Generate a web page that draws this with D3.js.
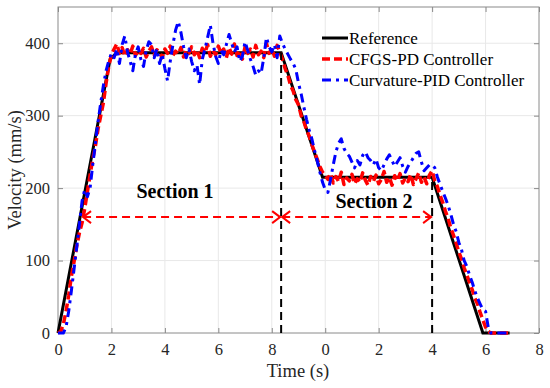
<!DOCTYPE html>
<html>
<head>
<meta charset="utf-8">
<script src="https://cdn.jsdelivr.net/npm/d3@7"></script>
<style>
  body { margin: 0; background: #fff; }
  svg { font-family: "Liberation Serif", "Times New Roman", serif; }
</style>
</head>
<body>
<svg id="chart" width="550" height="388"></svg>
<script>
// sampled every 0.1 s from t = 0
const sampleStep = 0.1;

// reference profile (t, v)
const refTime = [0, 1.95, 2.2, 8.35, 9.9, 14.0, 15.9, 16.9];
const refVel  = [0, 378, 387, 387, 215, 215, 0, 0];

const cfgsVel = [
  0, 2, 12, 30, 52, 78, 98, 120, 138, 152,
  172, 195, 218, 240, 258, 282, 300, 318, 345, 368,
  384, 392, 399, 386, 394, 382, 391, 385, 396, 383,
  390, 386, 393, 381, 389, 395, 384, 391, 387, 380,
  392, 386, 396, 383, 389, 385, 394, 381, 390, 386,
  395, 384, 391, 380, 393, 387, 398, 382, 390, 384,
  396, 386, 392, 380, 394, 385, 399, 383, 390, 378,
  395, 386, 392, 381, 397, 384, 389, 380, 400, 386,
  393, 382, 397, 388, 378, 365, 356, 342, 334, 322,
  315, 300, 292, 280, 272, 260, 250, 240, 230, 222,
  218, 212, 220, 207, 216, 209, 222, 205, 214, 210,
  219, 206, 213, 208, 221, 211, 204, 216, 209, 218,
  206, 212, 223, 208, 215, 204, 217, 210, 220, 207,
  214, 209, 219, 205, 213, 221, 208, 215, 206, 218,
  224, 210, 202, 190, 180, 168, 158, 145, 135, 124,
  112, 102, 90, 80, 70, 60, 48, 40, 28, 18,
  8, 2, 0, 0, 0, 0, 0, 0, 0, 0
];

const curvVel = [
  0, 0, 0, 8, 30, 58, 88, 118, 150, 182,
  198, 188, 200, 232, 262, 292, 318, 342, 362, 376,
  386, 380, 392, 372, 398, 410, 388, 375, 362, 385,
  395, 378, 368, 390, 402, 398, 380, 392, 372, 385,
  365, 348, 375, 398, 418, 430, 415, 395, 380, 392,
  375, 362, 370, 343, 378, 392, 408, 425, 400, 382,
  372, 390, 384, 398, 412, 400, 388, 395, 375, 382,
  402, 390, 378, 368, 356, 362, 358, 380, 408, 395,
  388, 398, 380, 410, 400, 392, 385, 378, 372, 364,
  345, 330, 312, 295, 280, 268, 252, 238, 222, 208,
  198, 194, 212, 232, 250, 262, 268, 255, 248, 244,
  236, 228, 238, 232, 245, 250, 242, 238, 232, 240,
  228, 224, 232, 240, 246, 238, 230, 236, 242, 230,
  222, 230, 236, 242, 248, 250, 236, 224, 228, 232,
  232, 228, 215, 205, 195, 186, 176, 164, 150, 140,
  125, 115, 100, 92, 80, 70, 58, 48, 40, 32,
  30, 8, 0, 0, 0, 0, 0, 0, 0, 0
];

const xTicks = [0, 2, 4, 6, 8, 10, 12, 14, 16, 18];
const xTickLabels = ["0", "2", "4", "6", "8", "0", "2", "4", "6", "8"];
const yTicks = [0, 100, 200, 300, 400];

const sectionSplit = [8.35, 14.0];
const arrowStart = 0.9;
const arrowLevel = 160;

const legendNames = ["Reference", "CFGS-PD Controller", "Curvature-PID Controller"];

const svg = d3.select("#chart");
const plotLeft = 58, plotRight = 539, plotTop = 7, plotBottom = 333;
const axisGray = "#8a8a8a";

const x = d3.scaleLinear().domain([0, 18]).range([plotLeft, plotRight]);
const y = d3.scaleLinear().domain([0, 450]).range([plotBottom, plotTop]);

// grid
svg.append("g").selectAll("line")
  .data(xTicks.slice(1, -1))
  .enter().append("line")
  .attr("x1", d => x(d)).attr("x2", d => x(d))
  .attr("y1", plotTop).attr("y2", plotBottom)
  .attr("stroke", "#e8e8e8").attr("stroke-width", 1);
svg.append("g").selectAll("line")
  .data(yTicks.slice(1))
  .enter().append("line")
  .attr("x1", plotLeft).attr("x2", plotRight)
  .attr("y1", d => y(d)).attr("y2", d => y(d))
  .attr("stroke", "#e8e8e8").attr("stroke-width", 1);

// axes (MATLAB style, ticks pointing in)
const xAxis = d3.axisBottom(x).tickValues(xTicks)
  .tickFormat((d, i) => xTickLabels[i])
  .tickSizeInner(-5).tickSizeOuter(0).tickPadding(10);
const yAxis = d3.axisLeft(y).tickValues(yTicks)
  .tickSizeInner(-5).tickSizeOuter(0).tickPadding(8);

const gx = svg.append("g").attr("transform", `translate(0,${plotBottom})`).call(xAxis);
const gy = svg.append("g").attr("transform", `translate(${plotLeft},0)`).call(yAxis);
const gxTop = svg.append("g").attr("transform", `translate(0,${plotTop})`)
  .call(d3.axisTop(x).tickValues(xTicks).tickFormat("").tickSizeInner(-5).tickSizeOuter(0));
const gyRight = svg.append("g").attr("transform", `translate(${plotRight},0)`)
  .call(d3.axisRight(y).tickValues(yTicks).tickFormat("").tickSizeInner(-5).tickSizeOuter(0));

[gx, gy, gxTop, gyRight].forEach(g => {
  g.select(".domain").remove();
  g.selectAll(".tick line").attr("stroke", axisGray);
  g.selectAll(".tick text").attr("fill", "#262626")
    .style("font-size", "16.5px").style("font-family", "Liberation Serif, serif");
});

svg.append("rect")
  .attr("x", plotLeft).attr("y", plotTop)
  .attr("width", plotRight - plotLeft).attr("height", plotBottom - plotTop)
  .attr("fill", "none").attr("stroke", axisGray).attr("stroke-width", 1);

// series
const line = d3.line().x(d => x(d[0])).y(d => y(d[1]));
const refData = refTime.map((t, i) => [t, refVel[i]]);
const cfgsData = cfgsVel.map((v, i) => [i * sampleStep, v]);
const curvData = curvVel.map((v, i) => [i * sampleStep, v]);

svg.append("path").datum(refData)
  .attr("d", line).attr("fill", "none")
  .attr("stroke", "#000").attr("stroke-width", 3);
svg.append("path").datum(cfgsData)
  .attr("d", line).attr("fill", "none")
  .attr("stroke", "#ff0000").attr("stroke-width", 3.5)
  .attr("stroke-linejoin", "round")
  .attr("stroke-dasharray", "8,4");
svg.append("path").datum(curvData)
  .attr("d", line).attr("fill", "none")
  .attr("stroke", "#0000ff").attr("stroke-width", 3)
  .attr("stroke-linejoin", "round")
  .attr("stroke-dasharray", "9,5,3,5");

// section split lines
const refAt = t => d3.scaleLinear().domain(refTime.slice(2, 6)).range(refVel.slice(2, 6))(t);
svg.append("g").selectAll("line")
  .data(sectionSplit)
  .enter().append("line")
  .attr("x1", d => x(d)).attr("x2", d => x(d))
  .attr("y1", y(0)).attr("y2", d => y(refAt(d)))
  .attr("stroke", "#000").attr("stroke-width", 2)
  .attr("stroke-dasharray", "8,5");

// section arrows
const defs = svg.append("defs");
defs.append("marker")
  .attr("id", "chev").attr("viewBox", "-10 -7 12 14")
  .attr("refX", 0).attr("refY", 0)
  .attr("markerWidth", 12).attr("markerHeight", 14)
  .attr("markerUnits", "userSpaceOnUse")
  .attr("orient", "auto-start-reverse")
  .append("path").attr("d", "M-8,-6L0,0L-8,6")
  .attr("fill", "none").attr("stroke", "#ff0000").attr("stroke-width", 2);

const spans = [[arrowStart, sectionSplit[0]], [sectionSplit[0], sectionSplit[1]]];
svg.append("g").selectAll("line")
  .data(spans)
  .enter().append("line")
  .attr("x1", d => x(d[0]) + 1).attr("x2", d => x(d[1]) - 1)
  .attr("y1", y(arrowLevel)).attr("y2", y(arrowLevel))
  .attr("stroke", "#ff0000").attr("stroke-width", 2)
  .attr("stroke-dasharray", "8,5")
  .attr("marker-start", "url(#chev)").attr("marker-end", "url(#chev)");

svg.append("text").attr("x", 175).attr("y", 198)
  .attr("text-anchor", "middle").attr("font-weight", "bold")
  .style("font-size", "20px").text("Section 1");
svg.append("text").attr("x", 374).attr("y", 208)
  .attr("text-anchor", "middle").attr("font-weight", "bold")
  .style("font-size", "20px").text("Section 2");

// labels
svg.append("text").attr("x", 298).attr("y", 377)
  .attr("text-anchor", "middle").attr("fill", "#262626")
  .style("font-size", "18.5px").text("Time (s)");
svg.append("text")
  .attr("transform", `translate(21,${(plotTop + plotBottom) / 2}) rotate(-90)`)
  .attr("text-anchor", "middle").attr("fill", "#262626")
  .style("font-size", "18.5px").text("Velocity (mm/s)");

// legend
const legendStyles = [
  { stroke: "#000", width: 3, dash: null },
  { stroke: "#ff0000", width: 3.5, dash: "8,4" },
  { stroke: "#0000ff", width: 3, dash: "9,5,3,5" }
];
const legend = svg.append("g").selectAll("g")
  .data(legendNames)
  .enter().append("g")
  .attr("transform", (d, i) => `translate(322,${38 + i * 21})`);
legend.append("line")
  .attr("x1", 0).attr("x2", 26).attr("y1", 0).attr("y2", 0)
  .attr("stroke", (d, i) => legendStyles[i].stroke)
  .attr("stroke-width", (d, i) => legendStyles[i].width)
  .attr("stroke-dasharray", (d, i) => legendStyles[i].dash);
legend.append("text")
  .attr("x", 27).attr("y", 6)
  .style("font-size", "17px").attr("fill", "#000")
  .text(d => d);
</script>
</body>
</html>
